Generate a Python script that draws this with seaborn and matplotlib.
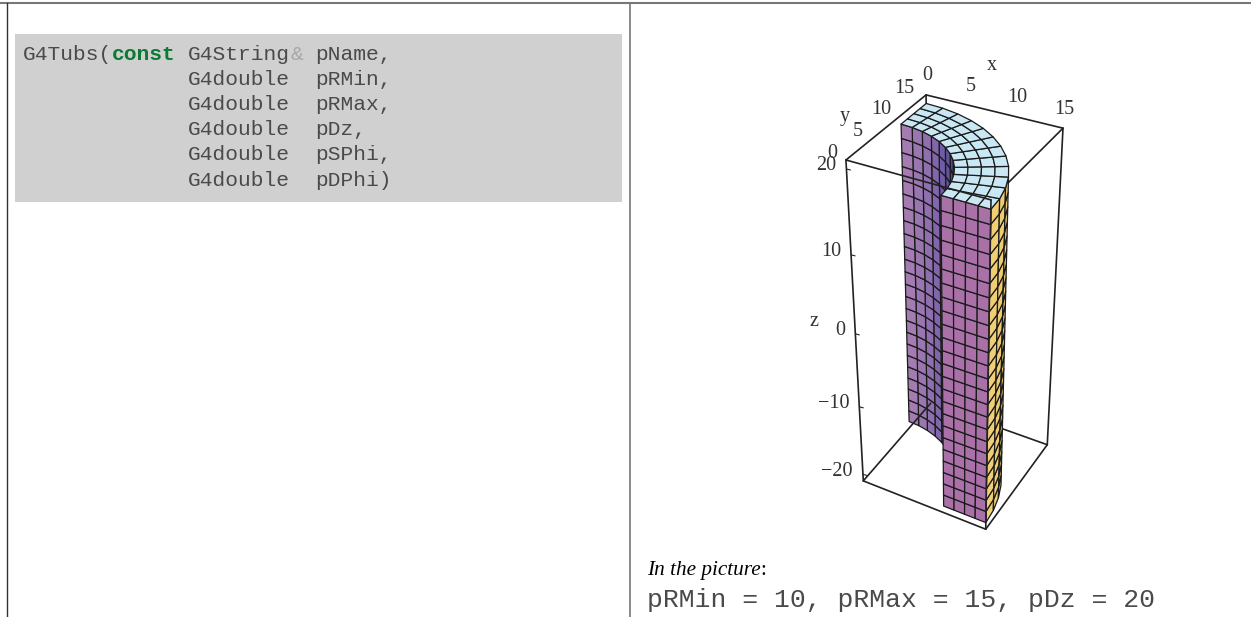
import numpy as np
import pandas as pd
import seaborn as sns
import matplotlib
matplotlib.use("Agg")
import matplotlib.pyplot as plt
from matplotlib.collections import PolyCollection
from matplotlib.patches import Rectangle

# ---- chart values ----
pRMin = 10
pRMax = 15
pDz = 20
pSPhi_deg = 0
pDPhi_deg = 90
radial_cells = 4
angular_cells = 12
height_cells = 24
box_x = [0, 15]
box_y = [0, 15]
box_z = [-21, 21]
x_ticks = [0, 5, 10, 15]
y_ticks = [0, 5, 10, 15]
z_ticks = [20, 10, 0, -10, -20]
z_labels = ["20", "10", "0", "\u221210", "\u221220"]
code_types = ["G4double", "G4double", "G4double", "G4double", "G4double"]
code_args = ["pRMin,", "pRMax,", "pDz,", "pSPhi,", "pDPhi)"]
caption = "pRMin = 10, pRMax = 15, pDz = 20"

# calibration of the view: box corner -> position in the image
view_corners = [(0, 0, 21), (0, 15, 21), (15, 15, 21), (15, 0, 21),
                (0, 0, -21), (0, 15, -21), (15, 15, -21), (15, 0, -21)]
view_pixels = [(846, 160), (926, 95), (1063, 128), (991, 200),
               (863, 481), (931, 403), (1047, 445), (986, 529)]

# ---- projection (DLT) ----
rows = []
for (X, Y, Z), (u, v) in zip(view_corners, view_pixels):
    rows.append([X, Y, Z, 1, 0, 0, 0, 0, -u*X, -u*Y, -u*Z, -u])
    rows.append([0, 0, 0, 0, X, Y, Z, 1, -v*X, -v*Y, -v*Z, -v])
P = np.linalg.svd(np.array(rows, float))[2][-1].reshape(3, 4)
cam_h = np.linalg.svd(P)[2][-1]
cam = cam_h[:3] / cam_h[3]


def proj(X, Y, Z):
    h = P @ np.array([X, Y, Z, 1.0])
    return h[0] / h[2], h[1] / h[2]


sns.set_theme(style="white")
plt.rcParams["font.family"] = ["Liberation Serif", "DejaVu Serif"]
fig = plt.figure(figsize=(12.51, 6.17), dpi=100)
ax = fig.add_axes([0, 0, 1, 1])
ax.set_xlim(0, 1251)
ax.set_ylim(617, 0)
ax.axis("off")

# ---- page frame ----
ax.plot([0, 1251], [2.5, 2.5], color="#777777", lw=1.5, zorder=1)
ax.plot([6.5, 6.5], [2.5, 617], color="#333333", lw=1.0, zorder=1)
ax.plot([629.5, 629.5], [2.5, 617], color="#777777", lw=1.2, zorder=1)
ax.add_patch(Rectangle((15, 34), 607, 168, fc="#D0D0D0", ec="none", zorder=1))

# ---- code block ----
cw = 12.72
lh = 25.2
x0 = 23
mono = "Liberation Mono"
ink = "#4A4A4A"
fs = 15.3
ty = 54
ax.text(x0, ty, "G4Tubs(", family=mono, size=fs, color=ink, va="center")
ax.text(x0 + 7*cw, ty, "const", family=mono, size=fs, color="#0B7A33",
        weight="bold", va="center")
ax.text(x0 + 13*cw, ty, "G4String", family=mono, size=fs, color=ink, va="center")
ax.text(x0 + 21*cw, ty, "&", family=mono, size=fs, color="#A8A8A8", va="center")
ax.text(x0 + 23*cw, ty, "pName,", family=mono, size=fs, color=ink, va="center")
for i, (t, a) in enumerate(zip(code_types, code_args), start=1):
    ax.text(x0 + 13*cw, ty + i*lh, t, family=mono, size=fs, color=ink, va="center")
    ax.text(x0 + 23*cw, ty + i*lh, a, family=mono, size=fs, color=ink, va="center")

# ---- caption ----
ax.text(647, 575, "In the picture", family="Liberation Serif", style="italic",
        size=15.3, color="black", va="baseline")
ax.text(760, 575, ":", family="Liberation Serif", size=15.3, color="black", va="baseline")
ax.text(647, 607, caption, family=mono, size=19, color=ink, va="baseline")

# ---- box edges through seaborn ----
c = lambda i: view_corners[i]
back_edges = [(0, 1), (1, 2), (2, 3), (1, 5), (5, 6), (6, 2)]
front_edges = [(0, 3), (0, 4), (3, 7), (4, 7), (4, 5), (6, 7)]


def edge_frame(edges):
    recs = []
    for k, (a, b) in enumerate(edges):
        for idx in (a, b):
            u, v = proj(*c(idx))
            recs.append({"edge": k, "px": u, "py": v})
    return pd.DataFrame(recs)


sns.lineplot(data=edge_frame(back_edges), x="px", y="py", units="edge", estimator=None,
             sort=False, color="#222222", lw=1.2, ax=ax, legend=False, zorder=2)

# ---- tube ----
phi = np.radians(np.linspace(pSPhi_deg, pDPhi_deg, angular_cells + 1))
rad = np.linspace(pRMin, pRMax, radial_cells + 1)
zed = np.linspace(-pDz, pDz, height_cells + 1)
inner_cols = sns.blend_palette(["#3A3078", "#3A3078", "#4E4290", "#6A58A5", "#8E6EAE", "#A47CB2"],
                               angular_cells)
outer_cols = sns.blend_palette(["#EFCE74", "#E0BA60"], angular_cells)
top_col = "#C9E8F4"
cut_col = "#A971A8"


def add_polys(polys, cols, z):
    pc = PolyCollection(polys, facecolors=cols, edgecolors="#1A1A1A", linewidths=0.9, zorder=z)
    ax.add_collection(pc)


def wall(r, sign, cols, z):
    polys, fc = [], []
    for j in range(angular_cells):
        mid = 0.5 * (phi[j] + phi[j + 1])
        normal = sign * np.array([np.cos(mid), np.sin(mid), 0])
        pos = np.array([r * np.cos(mid), r * np.sin(mid), 0])
        if np.dot(normal, cam - pos) <= 0:
            continue
        for k in range(height_cells):
            q = [(phi[j], zed[k]), (phi[j + 1], zed[k]),
                 (phi[j + 1], zed[k + 1]), (phi[j], zed[k + 1])]
            polys.append([proj(r * np.cos(p), r * np.sin(p), zz) for p, zz in q])
            fc.append(cols[j])
    if polys:
        add_polys(polys, fc, z)


wall(pRMax, 1, outer_cols, 3)
wall(pRMin, -1, inner_cols, 4)

cut = []
for i in range(radial_cells):
    for k in range(height_cells):
        cut.append([proj(rad[i], 0, zed[k]), proj(rad[i + 1], 0, zed[k]),
                    proj(rad[i + 1], 0, zed[k + 1]), proj(rad[i], 0, zed[k + 1])])
add_polys(cut, cut_col, 5)

top = []
for i in range(radial_cells):
    for j in range(angular_cells):
        top.append([proj(rad[i] * np.cos(phi[j]), rad[i] * np.sin(phi[j]), pDz),
                    proj(rad[i + 1] * np.cos(phi[j]), rad[i + 1] * np.sin(phi[j]), pDz),
                    proj(rad[i + 1] * np.cos(phi[j + 1]), rad[i + 1] * np.sin(phi[j + 1]), pDz),
                    proj(rad[i] * np.cos(phi[j + 1]), rad[i] * np.sin(phi[j + 1]), pDz)])
add_polys(top, top_col, 6)

sns.lineplot(data=edge_frame(front_edges), x="px", y="py", units="edge", estimator=None,
             sort=False, color="#222222", lw=1.2, ax=ax, legend=False, zorder=7)
ax.set_xlim(0, 1251)
ax.set_ylim(617, 0)
ax.set_xlabel("")
ax.set_ylabel("")

# ---- tick labels ----
lab = dict(family="Liberation Serif", size=14.5, color="#333333", zorder=8)
for t in x_ticks:
    u, v = proj(t, box_y[1], box_z[1])
    ax.text(u + 1, v - 19, str(t), ha="center", va="center", **lab)
for t in y_ticks:
    u, v = proj(box_x[0], t, box_z[1])
    ax.text(u - 14 - 8 * t / box_y[1], v - 6, str(t), ha="center", va="center", **lab)
for t, s in zip(z_ticks, z_labels):
    u, v = proj(box_x[0], box_y[0], t)
    ax.text(u - 10, v - 3, s, ha="right", va="center", **lab)
    ax.plot([u, u + 4], [v, v + 1], color="#222222", lw=0.8, zorder=7)
ax.text(992, 65, "x", ha="center", va="center", **lab)
ax.text(845, 116, "y", ha="center", va="center", **lab)
ax.text(814, 322, "z", ha="center", va="center", **lab)

fig.savefig("out.png", dpi=100)
